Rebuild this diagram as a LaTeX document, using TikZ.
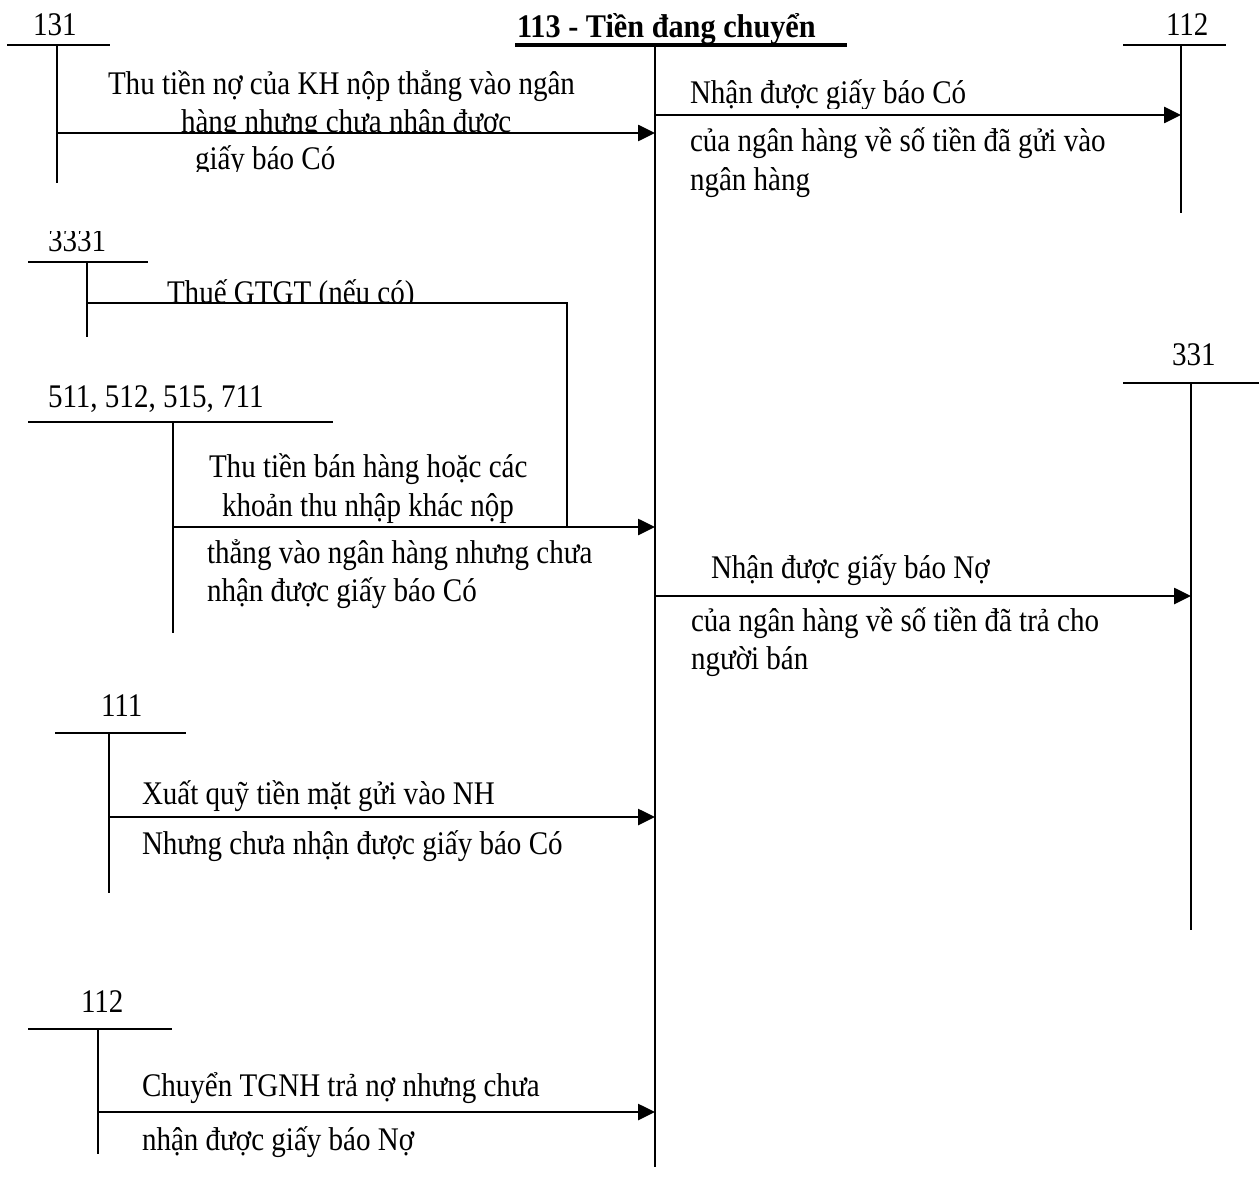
\documentclass[tikz,border=0pt]{standalone}
\usepackage{fontspec}
\setmainfont{Liberation Serif}[FakeStretch=0.88]
\newfontfamily\titlefont{Liberation Serif}[FakeStretch=0.917]
\usetikzlibrary{arrows.meta}

\begin{document}
\begin{tikzpicture}[x=1pt,y=-1pt,
  every node/.style={inner sep=0pt, outer sep=0pt, font=\fontsize{33}{38}\selectfont},
  lbl/.style={anchor=base west},
  acct/.style={line width=1.7pt},
  title/.style={line width=3.6pt},
  flow/.style={line width=2.6pt, -{Triangle[length=17pt,width=16pt]}}
]
\useasboundingbox (0,0) rectangle (1259,1196);

% ---- central account 113 ----
\node[lbl, font=\fontsize{33}{38}\titlefont\bfseries] (t113) at (517,38) {113 - Tiền đang chuyển};
\draw[title] (515,45) -- (847,45);
\coordinate (m0) at (655,45);
\coordinate (m1) at (655,1167);
\draw[acct] (m0) -- (m1);

% ---- account 131 ----
\node[lbl] (t131) at (33,36) {131};
\draw[acct] (7,45) -- (110,45);
\coordinate (v131a) at (57,45);
\coordinate (v131b) at (57,183);
\draw[acct] (v131a) -- (v131b);
\coordinate (s131) at (57,133);
\coordinate (e131) at (655,133);
\node[lbl] (l131a) at (108,95) {Thu tiền nợ của KH nộp thẳng vào ngân};
\begin{scope}
  \clip (100,100) rectangle (640,132);
  \node[lbl] (l131b) at (181,133) {hàng nhưng chưa nhận được};
\end{scope}
\begin{scope}
  \clip (100,140) rectangle (640,172);
  \node[lbl] (l131c) at (195,170) {giấy báo Có};
\end{scope}
\draw[flow] (s131) -- (e131);

% ---- account 112 (right) ----
\node[lbl] (t112r) at (1166,36) {112};
\draw[acct] (1123,45) -- (1226,45);
\coordinate (v112a) at (1181,45);
\coordinate (v112b) at (1181,213);
\draw[acct] (v112a) -- (v112b);
\coordinate (s112) at (655,115);
\coordinate (e112) at (1181,115);
\begin{scope}
  \clip (670,70) rectangle (1170,109);
  \node[lbl] (l112a) at (690,104) {Nhận được giấy báo Có};
\end{scope}
\node[lbl] (l112b) at (690,152) {của ngân hàng về số tiền đã gửi vào};
\node[lbl] (l112c) at (690,190) {ngân hàng};
\draw[flow] (s112) -- (e112);

% ---- account 3331 ----
\begin{scope}
  \clip (20,231) rectangle (200,260);
  \node[lbl] (t3331) at (48,251) {3331};
\end{scope}
\draw[acct] (28,262) -- (148,262);
\coordinate (v3331a) at (87,262);
\coordinate (v3331b) at (87,337);
\draw[acct] (v3331a) -- (v3331b);
\begin{scope}
  \clip (150,270) rectangle (560,302);
  \node[lbl] (l3331) at (167,303) {Thuế GTGT (nếu có)};
\end{scope}
\coordinate (s3331) at (87,303);
\coordinate (k3331) at (567,303);
\coordinate (j3331) at (567,527);
\draw[acct] (s3331) -- (k3331) -- (j3331);

% ---- accounts 511, 512, 515, 711 ----
\node[lbl] (t511) at (48,407) {511, 512, 515, 711};
\draw[acct] (28,422) -- (333,422);
\coordinate (v511a) at (173,422);
\coordinate (v511b) at (173,633);
\draw[acct] (v511a) -- (v511b);
\node[lbl] (l511a) at (209,477) {Thu tiền bán hàng hoặc các};
\node[lbl] (l511b) at (222,516) {khoản thu nhập khác nộp};
\node[lbl] (l511c) at (207,563) {thẳng vào ngân hàng nhưng chưa};
\node[lbl] (l511d) at (207,601) {nhận được giấy báo Có};
\coordinate (s511) at (173,527);
\coordinate (e511) at (655,527);
\draw[flow] (s511) -- (e511);

% ---- account 331 ----
\node[lbl] (t331) at (1172,365) {331};
\draw[acct] (1123,383) -- (1259,383);
\coordinate (v331a) at (1191,383);
\coordinate (v331b) at (1191,930);
\draw[acct] (v331a) -- (v331b);
\node[lbl] (l331a) at (711,578) {Nhận được giấy báo Nợ};
\node[lbl] (l331b) at (691,631) {của ngân hàng về số tiền đã trả cho};
\node[lbl] (l331c) at (691,669) {người bán};
\coordinate (s331) at (655,596);
\coordinate (e331) at (1191,596);
\draw[flow] (s331) -- (e331);

% ---- account 111 ----
\node[lbl] (t111) at (101,716) {111};
\draw[acct] (55,733) -- (186,733);
\coordinate (v111a) at (109,733);
\coordinate (v111b) at (109,893);
\draw[acct] (v111a) -- (v111b);
\node[lbl] (l111a) at (142,804) {Xuất quỹ tiền mặt gửi vào NH};
\node[lbl] (l111b) at (142,854) {Nhưng chưa nhận được giấy báo Có};
\coordinate (s111) at (109,817);
\coordinate (e111) at (655,817);
\draw[flow] (s111) -- (e111);

% ---- account 112 (bottom) ----
\node[lbl] (t112b) at (81,1012) {112};
\draw[acct] (28,1029) -- (172,1029);
\coordinate (v112c) at (98,1029);
\coordinate (v112d) at (98,1154);
\draw[acct] (v112c) -- (v112d);
\node[lbl] (l112d) at (142,1096) {Chuyển TGNH trả nợ nhưng chưa};
\node[lbl] (l112e) at (142,1150) {nhận được giấy báo Nợ};
\coordinate (s112b) at (98,1112);
\coordinate (e112b) at (655,1112);
\draw[flow] (s112b) -- (e112b);
\end{tikzpicture}
\end{document}
